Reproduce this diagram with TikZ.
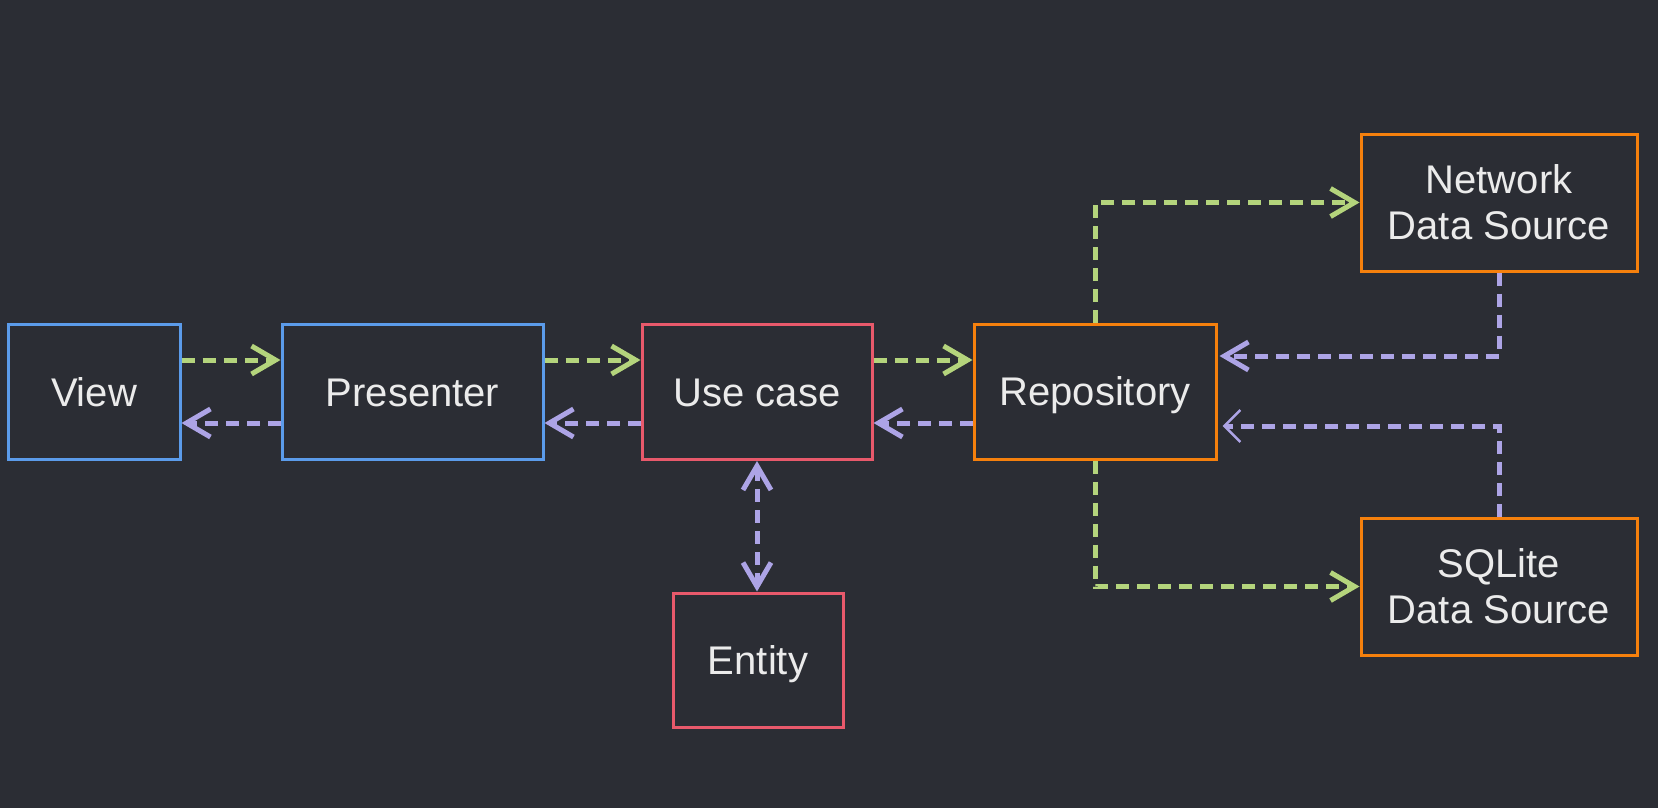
\documentclass[tikz,border=0pt]{standalone}
\usepackage{fontspec}
\setmainfont{Liberation Sans}
\usetikzlibrary{arrows.meta}
\definecolor{bg}{HTML}{2B2D34}
\definecolor{cblue}{HTML}{5B9BEA}
\definecolor{cred}{HTML}{E8596B}
\definecolor{corange}{HTML}{F5800D}
\definecolor{cgreen}{HTML}{B4D47C}
\definecolor{cpurple}{HTML}{ADA4E6}
\definecolor{ctext}{HTML}{EBEBEB}
\begin{document}
\begin{tikzpicture}[x=1pt,y=-1pt,
  box/.style={draw, line width=3pt, fill=bg, text=ctext, inner sep=0pt,
    minimum height=135pt, align=center, font=\fontsize{40}{46}\selectfont},
  one/.style={text height=28pt, text depth=0pt},
  conn/.style={line width=5pt, dash pattern=on 13pt off 8pt, -{Straight Barb[length=24pt,width=28pt,line width=5pt]}},
  fwd/.style={conn, cgreen},
  back/.style={conn, cpurple},
]
\fill[bg] (0,0) rectangle (1658,808);
\useasboundingbox (0,0) rectangle (1658,808);

\node[box, one, draw=cblue, minimum width=172pt] (view) at (94,392) {View};
\node[box, one, draw=cblue, minimum width=261pt] (presenter) at (412.5,392) {Presenter};
\node[box, one, draw=cred, minimum width=230pt] (usecase) at (757,392) {Use case};
\node[box, one, draw=corange, minimum width=242pt] (repo) at (1095,391.5) {Repository};
\node[box, draw=corange, minimum width=276pt, minimum height=137pt] (network) at (1499,202.5) {Network\\Data Source};
\node[box, draw=corange, minimum width=276pt, minimum height=137pt] (sqlite) at (1499,586.5) {SQLite\\Data Source};
\node[box, one, draw=cred, minimum width=170pt, minimum height=134pt] (entity) at (758,660) {Entity};

\coordinate (gy) at (0,360);
\coordinate (py) at (0,423);
\coordinate (ny) at (0,356);
\coordinate (sy) at (0,426);

\draw[fwd] (view.east |- gy) -- (presenter.west |- gy);
\draw[fwd] (presenter.east |- gy) -- (usecase.west |- gy);
\draw[fwd] (usecase.east |- gy) -- (repo.west |- gy);

\draw[back] (presenter.west |- py) -- (view.east |- py);
\draw[back] (usecase.west |- py) -- (presenter.east |- py);
\draw[back] (repo.west |- py) -- (usecase.east |- py);

\draw[conn, cpurple, {Straight Barb[length=24pt,width=28pt,line width=5pt]}-{Straight Barb[length=24pt,width=28pt,line width=5pt]}]
  (usecase.south) -- (usecase.south |- entity.north);

\draw[fwd] (repo.north) |- (network.west);
\draw[fwd] (repo.south) |- (sqlite.west);
\draw[back] (network.south) |- ([xshift=2pt]repo.east |- ny);
\draw[conn, cpurple, -{Straight Barb[length=16pt,width=32pt,line width=2.5pt]}]
  (sqlite.north) |- ([xshift=5pt]repo.east |- sy);
\end{tikzpicture}
\end{document}
